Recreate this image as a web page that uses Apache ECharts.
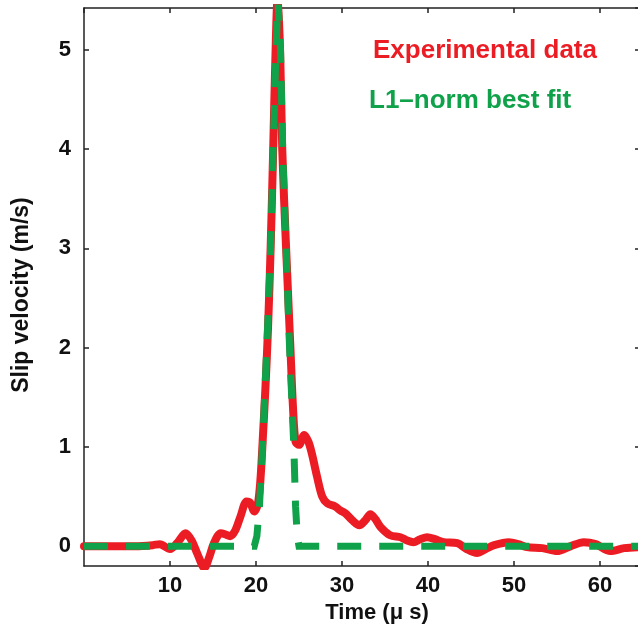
<!DOCTYPE html>
<html>
<head>
<meta charset="utf-8">
<script src="https://cdn.jsdelivr.net/npm/echarts@6/dist/echarts.min.js"></script>
<style>
html,body{margin:0;padding:0;background:#fff;}
#chart{width:638px;height:628px;}
</style>
</head>
<body>
<div id="chart"></div>
<script>
// Experimental slip velocity: [time (µs), velocity (m/s)]
const expTime = [0, 2, 4, 6, 8, 8.8, 10, 11, 11.8, 12.5, 13.2, 14.0, 14.6, 15.1, 15.9, 16.4, 17.0, 17.6, 18.2, 18.9, 19.3, 19.8, 20.2, 20.5, 20.8, 21.1, 21.4, 21.7, 22.0, 22.25, 22.5, 22.8, 23.05, 23.5, 24.0, 24.3, 24.6, 25.0, 25.6, 26.1, 26.5, 27.1, 27.7, 28.3, 29.2, 29.8, 30.4, 31.2, 32.0, 32.7, 33.3, 33.9, 34.5, 35.6, 36.8, 37.5, 38.3, 39.1, 39.9, 40.8, 41.8, 43.4, 44.5, 45.7, 46.7, 47.7, 49.4, 50.5, 51.5, 53.3, 55.0, 56.6, 58.1, 59.5, 61.2, 62.8, 64.65];
const expVel = [0, 0, 0, 0, 0.01, 0.02, -0.03, 0.05, 0.13, 0.06, -0.08, -0.22, -0.1, 0.03, 0.13, 0.12, 0.1, 0.16, 0.3, 0.45, 0.44, 0.35, 0.42, 0.65, 1.1, 1.6, 2.2, 3.0, 4.0, 4.9, 5.5, 5.0, 4.0, 3.0, 2.0, 1.4, 1.05, 1.02, 1.12, 1.05, 0.93, 0.7, 0.5, 0.43, 0.40, 0.36, 0.33, 0.26, 0.21, 0.26, 0.32, 0.27, 0.19, 0.11, 0.09, 0.06, 0.04, 0.07, 0.09, 0.07, 0.04, 0.03, -0.03, -0.07, -0.03, 0.01, 0.04, 0.02, -0.01, -0.02, -0.05, 0.0, 0.04, 0.02, -0.05, -0.02, -0.01];

// L1-norm best fit
const fitTime = [0, 19.8, 20.1, 20.4, 20.7, 21.0, 21.3, 21.7, 22.0, 22.3, 22.55, 22.85, 23.1, 23.5, 23.9, 24.2, 24.4, 24.6, 24.8, 25.0, 64.65];
const fitVel = [0, 0, 0.1, 0.4, 0.9, 1.5, 2.1, 3.0, 4.0, 4.9, 5.5, 5.0, 4.0, 3.0, 2.0, 1.4, 1.0, 0.4, 0.1, 0, 0];

const seriesNames = ['Experimental data', 'L1\u2013norm best fit'];
const xAxisName = 'Time (\u03bc s)';
const yAxisName = 'Slip velocity (m/s)';

const RED = '#ec1c24';
const GREEN = '#10a24a';
const AXIS = '#222';
const FONT = '"Liberation Sans", Arial, Helvetica, sans-serif';

const pairs = (xs, ys) => xs.map((x, i) => [x, ys[i]]);

const chart = echarts.init(document.getElementById('chart'), null, {renderer: 'canvas'});

const axisLineStyle = () => ({show: true, onZero: false, lineStyle: {color: AXIS, width: 1.5}});
const tickStyle = () => ({show: true, inside: true, length: 5, lineStyle: {color: AXIS, width: 1.5}});

chart.setOption({
  animation: false,
  backgroundColor: '#fff',
  textStyle: {fontFamily: FONT},
  grid: {left: 84, top: 8, width: 556, height: 558, containLabel: false, outerBoundsMode: 'none'},
  legend: [
    {
      data: [{name: seriesNames[0], textStyle: {color: RED}}],
      left: 367, top: 38, padding: 0,
      itemWidth: 0, itemHeight: 0,
      itemStyle: {opacity: 0}, lineStyle: {opacity: 0},
      selectedMode: false,
      textStyle: {fontSize: 26, fontWeight: 'bold', fontFamily: FONT}
    },
    {
      data: [{name: seriesNames[1], textStyle: {color: GREEN}}],
      left: 363, top: 88, padding: 0,
      itemWidth: 0, itemHeight: 0,
      itemStyle: {opacity: 0}, lineStyle: {opacity: 0},
      selectedMode: false,
      textStyle: {fontSize: 26, fontWeight: 'bold', fontFamily: FONT}
    }
  ],
  xAxis: [
    {
      type: 'value', position: 'bottom', min: 0, max: 64.65, interval: 10,
      axisLine: axisLineStyle(), axisTick: tickStyle(),
      splitLine: {show: false},
      axisLabel: {show: true, showMinLabel: false, showMaxLabel: false, margin: 9,
        color: '#111', fontSize: 22, fontWeight: 'bold', fontFamily: FONT},
      name: xAxisName, nameLocation: 'middle', nameGap: 34,
      nameTextStyle: {color: '#111', fontSize: 22, fontWeight: 'bold', fontFamily: FONT, padding: [0, 0, 0, 30]}
    },
    {
      type: 'value', position: 'top', min: 0, max: 64.65, interval: 10,
      axisLine: axisLineStyle(), axisTick: tickStyle(),
      splitLine: {show: false}, axisLabel: {show: false}
    }
  ],
  yAxis: [
    {
      type: 'value', position: 'left', min: -0.2, max: 5.42, splitNumber: 5,
      axisLine: axisLineStyle(), axisTick: tickStyle(),
      splitLine: {show: false},
      axisLabel: {show: true, showMinLabel: false, showMaxLabel: false, margin: 13,
        color: '#111', fontSize: 22, fontWeight: 'bold', fontFamily: FONT},
      name: yAxisName, nameLocation: 'middle', nameGap: 51, nameRotate: 90,
      nameTextStyle: {color: '#111', fontSize: 23, fontWeight: 'bold', fontFamily: FONT, padding: [0, 16, 0, 0]}
    },
    {
      type: 'value', position: 'right', min: -0.2, max: 5.42, splitNumber: 5,
      axisLine: axisLineStyle(), axisTick: tickStyle(),
      splitLine: {show: false}, axisLabel: {show: false}
    }
  ],
  series: [
    {
      name: seriesNames[0], type: 'line', xAxisIndex: 0, yAxisIndex: 0,
      data: pairs(expTime, expVel),
      showSymbol: false, symbol: 'none', smooth: 0.3, clip: true,
      lineStyle: {color: RED, width: 8, cap: 'round', join: 'round'},
      itemStyle: {color: RED}, z: 2
    },
    {
      name: seriesNames[1], type: 'line', xAxisIndex: 0, yAxisIndex: 0,
      data: pairs(fitTime, fitVel),
      showSymbol: false, symbol: 'none', smooth: false, clip: true,
      lineStyle: {color: GREEN, width: 7, type: [24, 18], cap: 'butt', join: 'miter'},
      itemStyle: {color: GREEN}, z: 3
    }
  ]
});
</script>
</body>
</html>
